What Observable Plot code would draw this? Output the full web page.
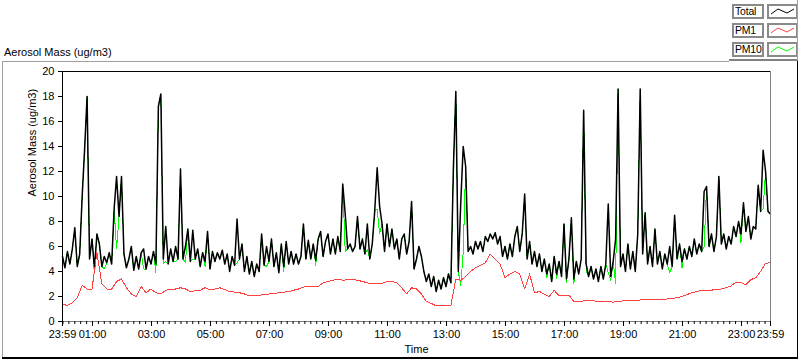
<!DOCTYPE html>
<html><head><meta charset="utf-8">
<script src="https://cdn.jsdelivr.net/npm/d3@7"></script>
<script src="https://cdn.jsdelivr.net/npm/@observablehq/plot@0.6"></script>
<style>
html,body{margin:0;padding:0;background:#fff;}
body{font-family:"Liberation Sans",Arial,sans-serif;}
#wrap{position:relative;width:800px;height:361px;overflow:hidden;background:#fff;}
#chart{position:absolute;left:0;top:0;}
.abs{position:absolute;}
.title{left:4px;top:46px;font-size:11px;line-height:13px;color:#000;white-space:nowrap;}
.lbox{position:absolute;box-sizing:border-box;border:2px solid #8a8a8a;background:#fff;font-size:10.5px;letter-spacing:-0.2px;line-height:11px;color:#000;padding-left:1px;overflow:hidden;white-space:nowrap;}
.swatch{position:absolute;box-sizing:border-box;border:2px solid #8a8a8a;background:#fff;}
.crisp path{shape-rendering:crispEdges;}
</style></head>
<body><div id="wrap">
<div id="chart"></div>
<div class="abs title">Aerosol Mass (ug/m3)</div>
<div id="legend"></div>
<div class="abs" style="left:2px;top:61px;width:727px;height:1px;background:#a0a0a0"></div>
<div class="abs" style="left:729px;top:59px;width:69px;height:2px;background:#808080"></div>
<div class="abs" style="left:797px;top:0px;width:1px;height:60px;background:#a0a0a0"></div>
<div class="abs" style="left:2px;top:61px;width:1px;height:297px;background:#a0a0a0"></div>
<div class="abs" style="left:2px;top:357px;width:796px;height:2px;background:#000"></div>
<div class="abs" style="left:797px;top:61px;width:1px;height:298px;background:#000"></div>
</div>
<script>
// ---- data ----
const totalStepMinutes = 5;   // Total and PM10 sampled every 5 minutes
const pm1StepMinutes = 10;    // PM1 sampled every 10 minutes

const totalValues = [
 5.2,4.3,5.6,4.6,5.8,7.5,4.4,5.4,10.0,13.8,
 18.0,5.0,6.6,4.2,7.0,6.2,4.4,5.2,4.7,5.5,
 4.6,9.0,11.6,8.4,11.6,5.4,4.3,5.0,6.0,4.1,
 5.2,4.2,5.5,5.8,4.2,5.2,4.6,5.6,4.6,17.2,
 18.2,5.0,7.6,4.6,5.8,4.8,6.0,5.0,12.2,5.0,
 6.0,7.4,4.8,7.3,5.0,5.8,4.4,5.5,4.8,7.2,
 4.2,5.6,4.8,5.5,5.0,5.7,4.6,5.4,4.0,5.2,
 4.5,8.2,5.0,6.2,4.0,5.2,3.8,4.8,3.6,4.6,
 4.0,7.0,4.5,6.0,4.8,6.6,4.4,5.5,3.9,6.2,
 4.4,6.4,4.6,5.6,4.6,5.4,4.6,5.2,7.8,5.0,
 6.5,5.0,6.2,4.9,6.6,7.2,5.2,6.4,7.0,5.4,
 6.6,5.4,6.8,5.6,11.0,8.6,5.8,6.2,5.6,6.0,
 8.4,5.8,6.6,5.4,7.8,5.0,6.2,8.8,12.3,9.2,
 7.8,5.6,7.8,6.0,7.4,5.8,6.6,5.0,6.6,7.0,
 5.4,6.4,9.6,4.2,5.0,6.0,5.2,4.0,3.2,3.8,
 2.8,3.6,2.4,3.3,2.6,3.5,2.8,3.8,3.1,12.2,
 18.4,4.0,9.5,14.0,12.4,5.6,6.0,5.4,6.4,5.8,
 6.4,5.6,6.8,6.4,7.0,6.6,7.1,6.2,6.8,5.2,
 6.0,5.0,6.2,5.2,6.8,7.6,5.6,7.0,10.2,5.0,
 6.4,4.6,5.6,4.4,5.4,4.0,5.0,3.8,4.6,3.2,
 5.2,3.8,4.8,3.6,7.8,3.4,5.0,8.3,3.4,4.8,
 3.8,5.0,16.9,4.6,3.6,4.4,3.4,4.2,3.2,4.4,
 3.4,4.6,9.4,3.6,4.8,6.6,18.6,4.4,5.4,4.0,
 6.2,4.2,5.6,4.0,7.0,18.6,5.4,8.7,4.6,6.0,
 4.4,7.4,4.6,5.6,4.2,5.4,4.6,6.0,4.4,8.5,
 5.0,6.2,4.8,5.8,5.0,6.0,5.2,6.6,5.4,6.2,
 5.6,10.4,10.8,6.0,7.0,5.6,6.8,11.6,6.2,7.0,
 5.8,6.8,6.2,7.6,6.8,8.0,7.0,9.5,7.2,8.4,
 6.6,7.6,7.4,10.9,8.8,13.7,12.0,8.8,8.6
];

const pm10Values = [
 5.2,4.3,5.6,4.6,5.8,7.5,4.4,5.4,10.0,13.8,
 18.0,5.0,6.6,4.2,7.0,6.2,4.4,4.2,4.7,5.5,
 4.6,9.0,5.8,8.4,11.6,5.4,4.3,5.0,6.0,4.1,
 5.2,4.2,5.5,4.2,4.2,5.2,4.6,5.6,3.9,17.2,
 18.2,4.6,4.8,4.6,5.8,4.8,4.8,5.0,12.2,5.0,
 4.7,7.4,4.8,5.0,5.0,5.8,4.4,5.5,4.4,7.2,
 4.2,5.6,4.8,5.5,5.0,5.7,4.6,5.4,4.0,5.2,
 4.5,4.7,5.0,6.2,4.0,5.2,3.8,4.8,3.6,4.6,
 4.0,7.0,4.5,4.4,4.8,6.6,4.4,5.5,3.9,6.2,
 4.0,6.4,4.6,5.6,4.6,5.4,4.6,5.2,7.8,5.0,
 6.5,5.0,6.2,4.5,6.6,7.2,5.2,6.4,7.0,5.4,
 6.6,5.4,6.8,5.6,11.0,5.6,5.8,6.2,5.6,6.0,
 8.4,5.8,6.6,5.4,5.8,5.0,6.2,8.8,9.0,7.0,
 7.8,5.6,7.8,6.0,7.4,5.8,6.6,5.0,6.6,7.0,
 5.4,6.4,9.6,4.2,5.0,6.0,5.2,4.0,3.2,3.8,
 2.8,3.6,2.4,3.3,2.6,3.5,2.8,3.8,3.1,12.2,
 18.4,4.0,2.9,5.5,12.4,5.6,6.0,5.4,6.4,5.8,
 6.4,5.6,6.8,6.4,7.0,6.6,7.1,6.2,6.8,5.2,
 6.0,5.0,6.2,5.2,6.8,7.6,5.6,7.0,10.2,5.0,
 6.4,4.6,5.6,4.4,5.4,4.0,5.0,3.5,4.6,3.2,
 5.2,3.4,4.8,3.6,7.8,3.1,5.0,8.3,3.0,4.8,
 3.8,5.0,16.9,4.0,3.6,4.4,3.4,4.2,3.2,4.4,
 3.4,4.6,3.9,3.3,4.8,3.0,18.6,4.4,5.4,4.0,
 6.2,4.2,5.6,4.0,7.0,18.6,5.4,8.7,4.6,6.0,
 4.4,7.4,4.6,5.6,4.2,5.4,4.6,3.9,4.4,8.5,
 5.0,6.2,4.3,5.8,5.0,6.0,5.2,6.6,5.4,6.2,
 5.6,6.0,10.8,6.0,7.0,5.6,6.8,11.6,6.2,7.0,
 5.8,6.8,6.2,7.6,6.8,8.0,6.3,9.5,7.2,8.4,
 6.6,7.6,7.4,10.9,8.8,9.0,12.0,8.8,8.6
];

const pm1Values = [
 1.35,1.3,1.5,1.9,2.9,2.6,2.6,5.5,3.0,2.6,
 2.6,3.2,3.4,2.7,2.2,2.0,2.8,2.3,2.6,2.3,
 2.2,2.5,2.6,2.6,2.7,2.6,2.4,2.45,2.5,2.7,
 2.55,2.6,2.7,2.55,2.4,2.35,2.3,2.2,2.05,2.1,
 2.1,2.15,2.2,2.25,2.3,2.35,2.4,2.5,2.6,2.75,
 2.8,2.8,2.8,3.1,3.2,3.3,3.4,3.3,3.35,3.35,
 3.3,3.2,3.1,3.0,3.05,3.05,3.2,3.2,3.1,2.7,
 2.2,2.7,2.6,2.2,1.6,1.45,1.25,1.3,1.3,1.3,
 3.4,3.3,3.6,4.0,4.3,4.5,4.7,5.4,5.0,4.6,
 3.5,3.8,4.0,3.8,2.6,3.8,2.3,2.4,2.2,2.0,
 2.5,2.05,2.05,2.1,1.6,1.6,1.65,1.65,1.65,1.6,
 1.6,1.6,1.55,1.6,1.65,1.7,1.7,1.7,1.75,1.75,
 1.75,1.8,1.8,1.8,1.85,1.9,2.0,2.15,2.3,2.4,
 2.5,2.5,2.5,2.6,2.6,2.7,2.85,3.15,3.1,2.95,
 3.35,3.5,4.0,4.65,4.7
];

const seriesNames = ["Total", "PM1", "PM10"];
const seriesColors = ["#000000", "#ff4040", "#00ff00"];
const yTicks = [0,2,4,6,8,10,12,14,16,18,20];
const xTickLabels = ["23:59","01:00","03:00","05:00","07:00","09:00","11:00","13:00","15:00","17:00","19:00","21:00","23:00","23:59"];

// ---- build ----
const minute = 60000;
const start = new Date(Date.UTC(2000,0,1,23,59));
const end = new Date(+start + 1440*minute);
const rows = (vals, step) => vals.map((v,i)=>({time:new Date(+start + i*step*minute), value:v}));
const totalRows = rows(totalValues, totalStepMinutes);
const pm10Rows = rows(pm10Values, totalStepMinutes);
const pm1Rows = rows(pm1Values, pm1StepMinutes);

const majorTicks = xTickLabels.map((s,i)=>{
  if (i===0) return start;
  if (i===xTickLabels.length-1) return end;
  const [h,m] = s.split(":").map(Number);
  return new Date(Date.UTC(2000,0,2,h,m));
});
const labelOf = new Map(majorTicks.map((d,i)=>[+d, xTickLabels[i]]));
const minorTicks = d3.utcMinute.every(12).range(start, end);

const chart = Plot.plot({
  width: 800, height: 361,
  marginLeft: 62, marginRight: 30, marginTop: 71, marginBottom: 40,
  x: {type: "utc", domain: [start, end], axis: null},
  y: {domain: [0, 20], axis: null},
  style: {fontFamily: '"Liberation Sans", Arial, sans-serif', fontSize: "11px", color: "#000", background: "transparent", overflow: "visible"},
  marks: [
    Plot.lineY(pm10Rows, {x: "time", y: "value", stroke: seriesColors[2], strokeWidth: 1, className: "crisp"}),
    Plot.lineY(totalRows, {x: "time", y: "value", stroke: seriesColors[0], strokeWidth: 1.5}),
    Plot.lineY(pm1Rows, {x: "time", y: "value", stroke: seriesColors[1], strokeWidth: 1, className: "crisp"}),
    Plot.ruleY([20], {stroke: "#000"}),
    Plot.ruleX([start], {stroke: "#000"}),
    Plot.ruleY([0], {stroke: "#808080"}),
    Plot.ruleX([end], {stroke: "#808080"}),
    Plot.axisY({ticks: yTicks, tickSize: 4, tickPadding: 4, label: null, fontSize: 11}),
    Plot.axisX({ticks: minorTicks, tickSize: 3, tickFormat: () => "", label: null}),
    Plot.axisX({ticks: majorTicks, tickSize: 5, tickPadding: 4, tickFormat: d => labelOf.get(+d), label: null, fontSize: 11}),
    Plot.text(["Aerosol Mass (ug/m3)"], {frameAnchor: "left", dx: -30, rotate: -90, fontSize: 11}),
    Plot.text(["Time"], {frameAnchor: "bottom", dy: 31, fontSize: 11})
  ]
});
document.getElementById("chart").appendChild(chart);

// ---- legend ----
const legend = document.getElementById("legend");
const rowTops = [4, 23, 42];
seriesNames.forEach((name, i) => {
  const t = document.createElement("div");
  t.className = "lbox";
  t.style.left = "732px"; t.style.top = rowTops[i] + "px";
  t.style.width = "32px"; t.style.height = "15px";
  t.textContent = name;
  legend.appendChild(t);
  const s = document.createElement("div");
  s.className = "swatch";
  s.style.left = "767px"; s.style.top = rowTops[i] + "px";
  s.style.width = "31px"; s.style.height = "15px";
  s.innerHTML = `<svg width="27" height="11" style="position:absolute;left:0;top:0"><polyline points="2,8 9,3 18,7 25,3" fill="none" stroke="${seriesColors[i]}" stroke-width="1"/></svg>`;
  legend.appendChild(s);
});
</script>
</body></html>
